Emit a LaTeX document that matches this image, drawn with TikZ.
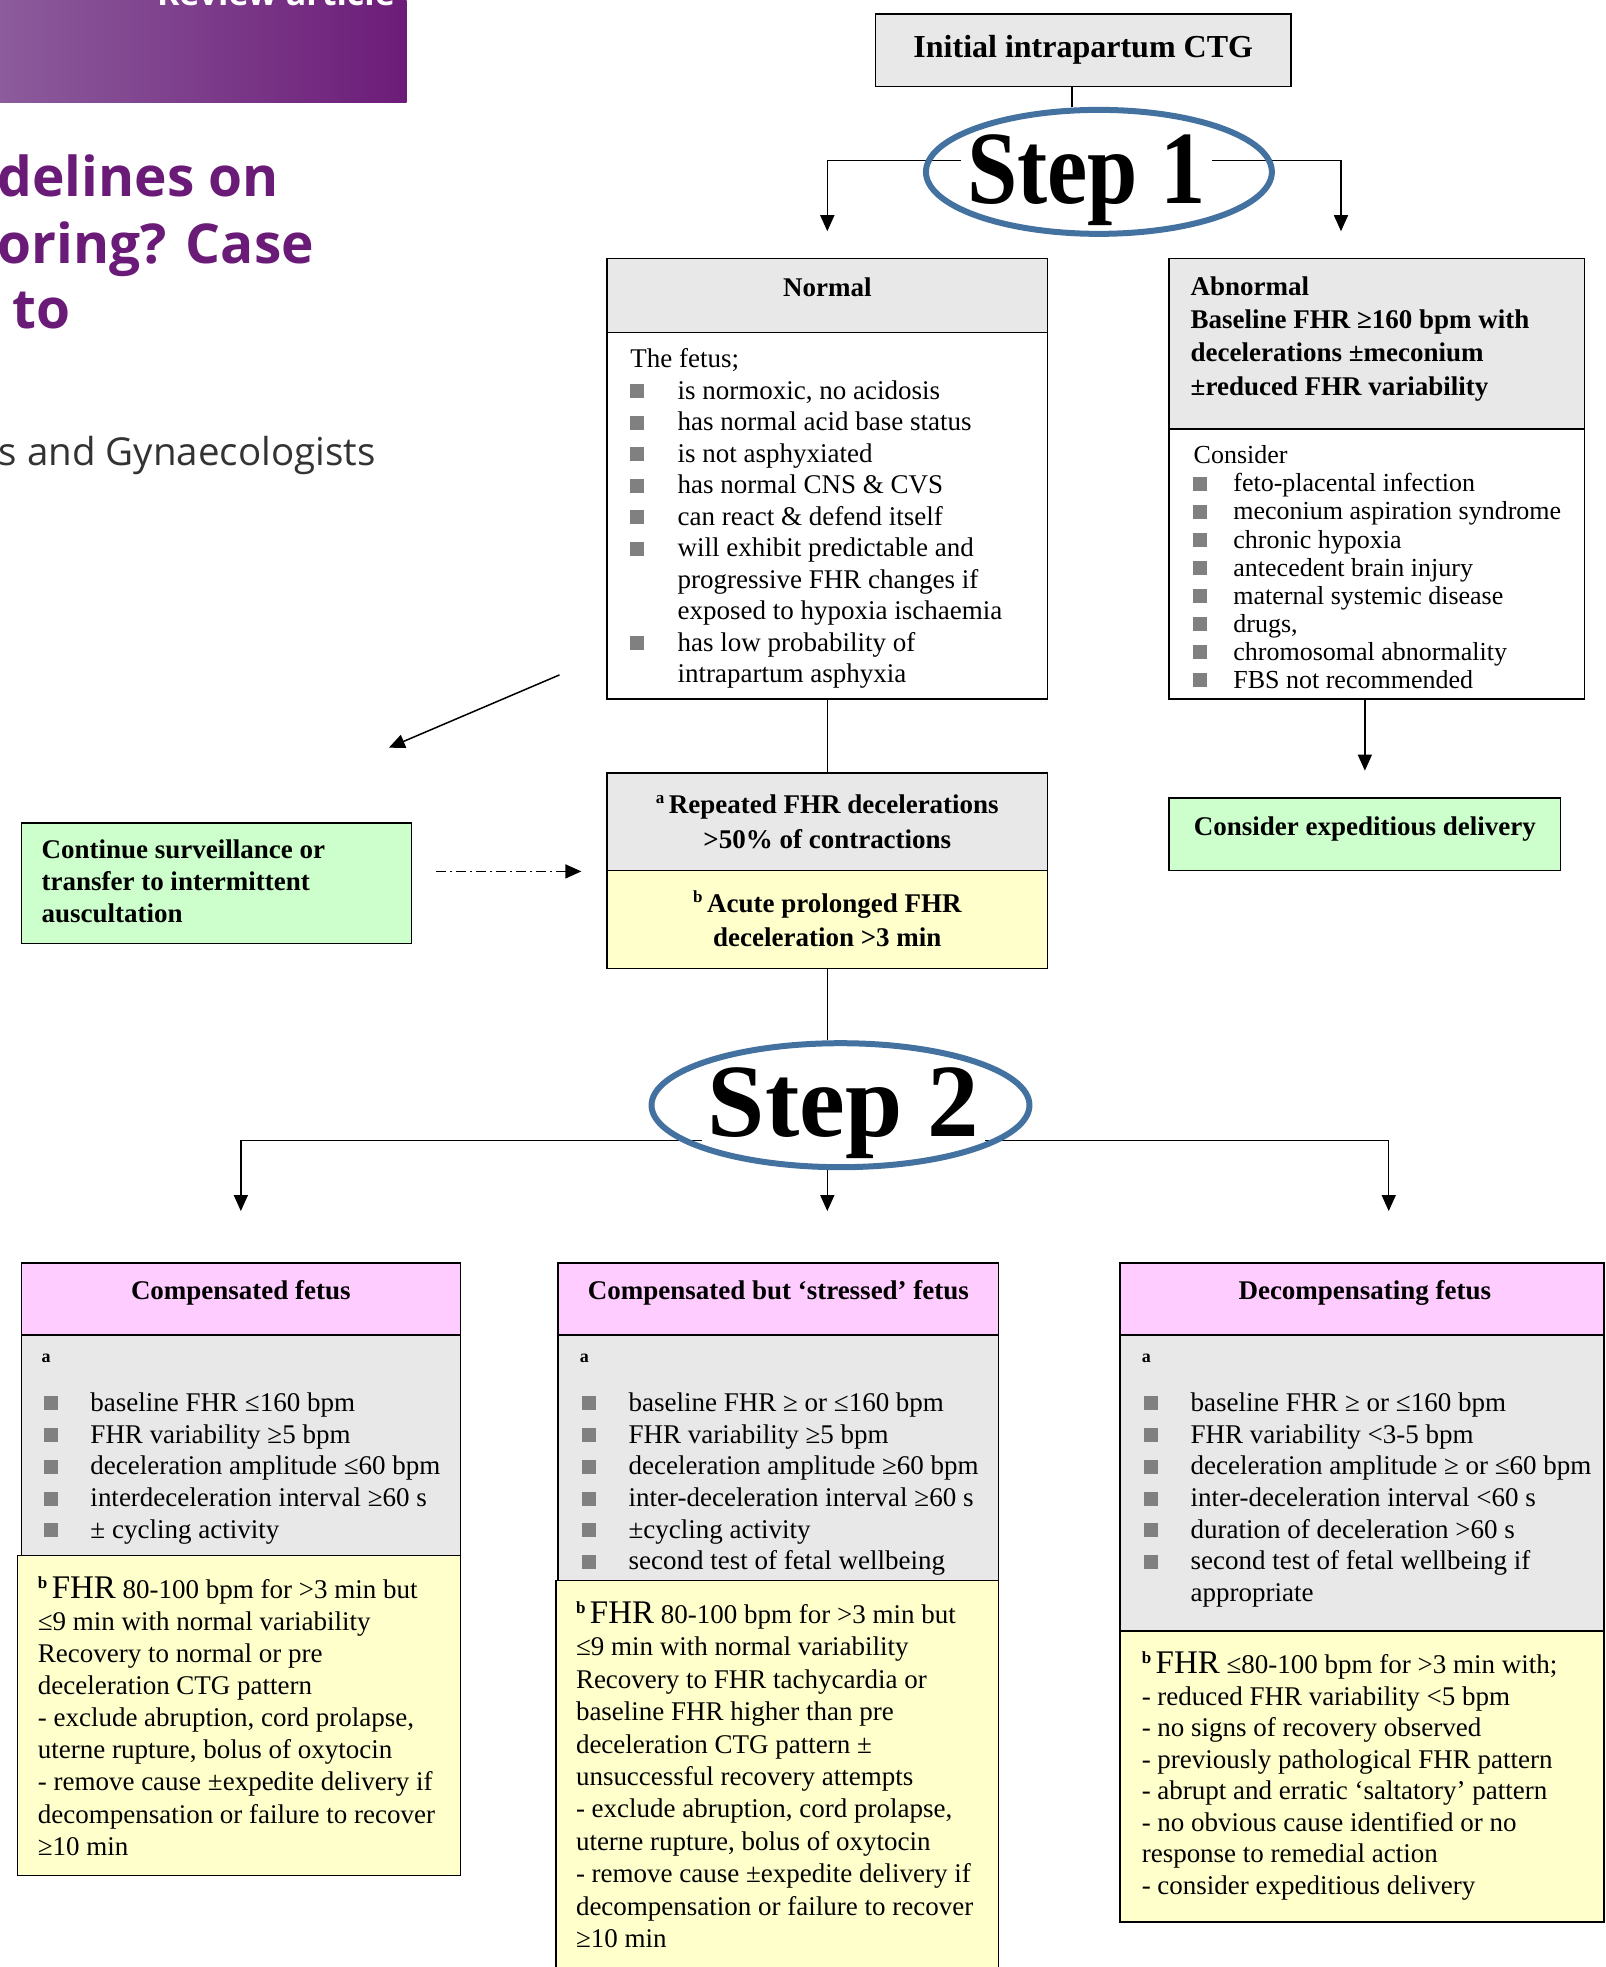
\documentclass[tikz,border=0pt]{standalone}
\usepackage{fontspec}
\setmainfont{Liberation Serif}
\newfontfamily\ctgsans{Open Sans}
\usepackage{xcolor}
\usetikzlibrary{arrows.meta,fit,matrix,backgrounds,shapes.geometric}

\definecolor{ctggrey}{RGB}{232,232,232}
\definecolor{ctgyellow}{RGB}{255,255,204}
\definecolor{ctggreen}{RGB}{204,255,204}
\definecolor{ctgpink}{RGB}{255,204,255}
\definecolor{ctgblue}{RGB}{68,114,160}
\definecolor{ctgbullet}{RGB}{128,128,128}
\definecolor{ctgpurple}{RGB}{106,27,119}
\definecolor{ctgpurpleL}{RGB}{140,92,156}
\definecolor{ctgpurpleR}{RGB}{108,28,120}
\definecolor{ctgdark}{RGB}{51,51,51}

\newcommand{\ctgreg}{\fontsize{27}{32}\selectfont}
\newcommand{\ctgbf}{\fontsize{27}{32}\selectfont\bfseries}
\newcommand{\ctgsmall}{\fontsize{26}{28}\selectfont}
\newcommand{\ctglab}{\fontsize{18}{18}\selectfont\bfseries}
\newcommand{\ctgsq}{\textcolor{ctgbullet}{\rule[1pt]{14pt}{14pt}}}
\newcommand{\ctgsup}[1]{\raisebox{10pt}{\fontsize{17}{17}\selectfont\bfseries #1}}
\newcommand{\ctgFHR}{{\fontsize{33}{33}\selectfont FHR}}

\begin{document}
\begin{tikzpicture}[
    x=1.2547pt, y=-1.2547pt,
    nosep/.style={inner sep=0pt},
    ctgbox/.style={draw, line width=1.6pt, inner sep=0pt, fit={#1}},
    head/.style={nosep, anchor=base, font=\ctgbf},
    lst/.style={
        matrix of nodes,
        nodes in empty cells,
        ampersand replacement=\&,
        nosep, row sep=0pt, anchor=north west,
        nodes={nosep, anchor=base west, font=\ctgreg, text height=22pt, text depth=#1}},
    clst/.style={lst=#1, anchor=north, nodes={anchor=base}},
    steptxt/.style={fill=white, inner xsep=6pt, inner ysep=1pt, anchor=base, font=\fontsize{104}{104}\selectfont\bfseries},
    stepring/.style={ellipse, draw=ctgblue, line width=6pt, nosep, minimum height=124pt},
    link/.style={line width=1.5pt},
    arr/.style={link, -{Triangle[length=16pt,width=14pt]}},
    ddarr/.style={arr, dash pattern=on 10pt off 4pt on 2pt off 4pt}]
\useasboundingbox (0,0) rectangle (1280,1568);

\shade[left color=ctgpurpleL, right color=ctgpurpleR] (0,0) rectangle (324.2,81.9);
\node[nosep, anchor=base west, text=white, font=\ctgsans\bfseries\fontsize{34}{34}\selectfont] (review) at (125,4) {Review article};
\node[nosep, anchor=base west, text=ctgpurple, font=\ctgsans\bfseries\fontsize{55}{55}\selectfont] (ttla) at (-2,157) {delines on};
\node[nosep, anchor=base west, text=ctgpurple, font=\ctgsans\bfseries\fontsize{55}{55}\selectfont] (ttlb) at (-2,210) {oring? Case};
\node[nosep, anchor=base west, text=ctgpurple, font=\ctgsans\bfseries\fontsize{55}{55}\selectfont] (ttlc) at (10,262) {to};
\node[nosep, anchor=base west, text=ctgdark, font=\ctgsans\fontsize{38.5}{38.5}\selectfont] (sub) at (-1,371) {s and Gynaecologists};

\node[ctgbox={(698,11) (1029,69)}, fill=ctggrey] (init) {};
\node[head, font=\fontsize{32}{32}\selectfont\bfseries] (inittxt) at (863.5,45.5) {Initial intrapartum CTG};

\node[steptxt] (s1txt) at (866,162) {\scalebox{0.87}[1]{Step 1}};
\node[stepring, minimum width=346pt] (s1) at (876,137) {};

\node[ctgbox={(484,206) (835,265)}, fill=ctggrey] (normhead) {};
\node[ctgbox={(484,265) (835,557)}, fill=white] (normbody) {};
\node[head] (normtitle) at (659.5,236) {Normal};
\matrix[lst=9.5pt, column sep=33.7pt] (normlist) at ([yshift=22pt]502,293) {
 \rlap{The fetus;}  \&                               \\
 \ctgsq             \& is normoxic, no acidosis      \\
 \ctgsq             \& has normal acid base status   \\
 \ctgsq             \& is not asphyxiated            \\
 \ctgsq             \& has normal CNS \symbol{38} CVS  \\
 \ctgsq             \& can react \symbol{38} defend itself \\
 \ctgsq             \& will exhibit predictable and  \\
                    \& progressive FHR changes if    \\
                    \& exposed to hypoxia ischaemia  \\
 \ctgsq             \& has low probability of        \\
                    \& intrapartum asphyxia          \\
};

\node[ctgbox={(932,206) (1263,342)}, fill=ctggrey] (abnhead) {};
\node[ctgbox={(932,342) (1263,557)}, fill=white] (abnbody) {};
\matrix[lst=11.5pt, nodes={font=\ctgbf}] (abntitle) at ([yshift=22pt]949,235) {
 Abnormal                   \\
 Baseline FHR ≥160 bpm with \\
 decelerations ±meconium    \\
 ±reduced FHR variability   \\
};
\matrix[lst=6.1pt, column sep=26.2pt, nodes={font=\ctgsmall}] (abnlist) at ([yshift=22pt]951,369.5) {
 \rlap{Consider} \&                             \\
 \ctgsq          \& feto-placental infection     \\
 \ctgsq          \& meconium aspiration syndrome \\
 \ctgsq          \& chronic hypoxia              \\
 \ctgsq          \& antecedent brain injury      \\
 \ctgsq          \& maternal systemic disease    \\
 \ctgsq          \& drugs,                       \\
 \ctgsq          \& chromosomal abnormality      \\
 \ctgsq          \& FBS not recommended          \\
};

\node[ctgbox={(932,636) (1244,694)}, fill=ctggreen] (consider) {};
\node[head] (considertxt) at (1088,666) {Consider expeditious delivery};

\node[ctgbox={(17,656) (328,752)}, fill=ctggreen] (cont) {};
\matrix[lst=10pt, nodes={font=\ctgbf}] (conttxt) at ([yshift=22pt]33,684) {
 Continue surveillance or \\
 transfer to intermittent \\
 auscultation             \\
};

\node[ctgbox={(484,616) (835,694)}, fill=ctggrey] (abtop) {};
\node[ctgbox={(484,694) (835,772)}, fill=ctgyellow] (abbot) {};
\matrix[clst=13.1pt, nodes={font=\ctgbf}] (abtoptxt) at ([yshift=22pt]659.5,648) {
 \ctgsup{a}\,Repeated FHR decelerations \\
 >50\% of contractions                  \\
};
\matrix[clst=11.9pt, nodes={font=\ctgbf}] (abbottxt) at ([yshift=22pt]659.5,727) {
 \ctgsup{b}\,Acute prolonged FHR \\
 deceleration >3 min             \\
};

\node[steptxt] (s2txt) at (672.5,906) {\scalebox{0.99}[1]{Step 2}};
\node[stepring, minimum width=378pt] (s2) at (670,881) {};

\node[ctgbox={(17,1007) (367,1064)}, fill=ctgpink] (c1head) {};
\node[ctgbox={(17,1064) (367,1240)}, fill=ctggrey] (c1grey) {};
\node[ctgbox={(14,1240) (367,1495)}, fill=ctgyellow] (c1yel) {};
\node[head] (c1title) at (192,1036) {Compensated fetus};
\node[nosep, anchor=base west, font=\ctglab] (c1a) at (33,1086) {a};
\matrix[lst=9.7pt, column sep=32.4pt] (c1list) at ([yshift=22pt]35,1125) {
 \ctgsq \& baseline FHR ≤160 bpm            \\
 \ctgsq \& FHR variability ≥5 bpm           \\
 \ctgsq \& deceleration amplitude ≤60 bpm   \\
 \ctgsq \& interdeceleration interval ≥60 s \\
 \ctgsq \& ± cycling activity               \\
};
\matrix[lst=10.1pt] (c1text) at ([yshift=22pt]30,1274) {
 \ctgsup{b}\,\ctgFHR{} 80-100 bpm for >3 min but \\
 ≤9 min with normal variability       \\
 Recovery to normal or pre            \\
 deceleration CTG pattern             \\
 - exclude abruption, cord prolapse,  \\
 uterne rupture, bolus of oxytocin    \\
 - remove cause ±expedite delivery if \\
 decompensation or failure to recover \\
 ≥10 min                              \\
};

\node[ctgbox={(445,1007) (796,1064)}, fill=ctgpink] (c2head) {};
\node[ctgbox={(445,1064) (796,1260)}, fill=ctggrey] (c2grey) {};
\node[ctgbox={(443,1260) (796,1580)}, fill=ctgyellow] (c2yel) {};
\node[head] (c2title) at (620.5,1036) {Compensated but ‘stressed’ fetus};
\node[nosep, anchor=base west, font=\ctglab] (c2a) at (462,1086) {a};
\matrix[lst=9.7pt, column sep=32.4pt] (c2list) at ([yshift=22pt]464,1125) {
 \ctgsq \& baseline FHR ≥ or ≤160 bpm        \\
 \ctgsq \& FHR variability ≥5 bpm            \\
 \ctgsq \& deceleration amplitude ≥60 bpm    \\
 \ctgsq \& inter-deceleration interval ≥60 s \\
 \ctgsq \& ±cycling activity                 \\
 \ctgsq \& second test of fetal wellbeing    \\
};
\matrix[lst=10.4pt] (c2text) at ([yshift=22pt]459,1294) {
 \ctgsup{b}\,\ctgFHR{} 80-100 bpm for >3 min but \\
 ≤9 min with normal variability       \\
 Recovery to FHR tachycardia or       \\
 baseline FHR higher than pre         \\
 deceleration CTG pattern ±           \\
 unsuccessful recovery attempts       \\
 - exclude abruption, cord prolapse,  \\
 uterne rupture, bolus of oxytocin    \\
 - remove cause ±expedite delivery if \\
 decompensation or failure to recover \\
 ≥10 min                              \\
};

\node[ctgbox={(893,1007) (1278.5,1064)}, fill=ctgpink] (c3head) {};
\node[ctgbox={(893,1064) (1278.5,1300)}, fill=ctggrey] (c3grey) {};
\node[ctgbox={(893,1300) (1278.5,1532)}, fill=ctgyellow] (c3yel) {};
\node[head] (c3title) at (1088,1036) {Decompensating fetus};
\node[nosep, anchor=base west, font=\ctglab] (c3a) at (910,1086) {a};
\matrix[lst=9.7pt, column sep=32.4pt] (c3list) at ([yshift=22pt]912,1125) {
 \ctgsq \& baseline FHR ≥ or ≤160 bpm           \\
 \ctgsq \& FHR variability <3-5 bpm             \\
 \ctgsq \& deceleration amplitude ≥ or ≤60 bpm  \\
 \ctgsq \& inter-deceleration interval <60 s    \\
 \ctgsq \& duration of deceleration >60 s       \\
 \ctgsq \& second test of fetal wellbeing if    \\
        \& appropriate                          \\
};
\matrix[lst=9.5pt] (c3text) at ([yshift=22pt]910,1334) {
 \ctgsup{b}\,\ctgFHR{} ≤80-100 bpm for >3 min with; \\
 - reduced FHR variability <5 bpm          \\
 - no signs of recovery observed           \\
 - previously pathological FHR pattern     \\
 - abrupt and erratic ‘saltatory’ pattern  \\
 - no obvious cause identified or no       \\
 response to remedial action               \\
 - consider expeditious delivery           \\
};

\coordinate (diagA) at (446,538);
\coordinate (diagB) at (310,596);

\begin{scope}[on background layer]
\fill[white] (0,0) rectangle (1280,1568);
\draw[link] ([xshift=-11pt]init.south) -- ([xshift=-11pt]init.south |- s1.north);
\draw[arr, shorten >=26.4pt] ([yshift=11.3pt]s1.center) -| (normhead.north);
\draw[arr, shorten >=26.4pt] ([yshift=11.3pt]s1.center) -| ([xshift=-35.8pt]abnhead.north);
\draw[link] (normbody.south) -- (abtop.north);
\draw[arr, shorten >=26.4pt] (consider.north |- abnbody.south) -- (consider.north);
\draw[arr] (diagA) -- (diagB);
\draw[ddarr, shorten <=23.8pt, shorten >=25pt] (cont.east |- abtop.south) -- (abtop.south west);
\draw[link] (abbot.south) -- (abbot.south |- s2.north);
\draw[arr, shorten >=51.4pt] ([yshift=-35.1pt]s2.center) -| (c1head.north);
\draw[arr, shorten >=51.4pt] (abbot.south |- s2.south) -- (abbot.south |- c2head.north);
\draw[arr, shorten >=51.4pt] ([yshift=-35.1pt]s2.center) -| ([xshift=26.7pt]c3head.north);
\end{scope}

\end{tikzpicture}
\end{document}
